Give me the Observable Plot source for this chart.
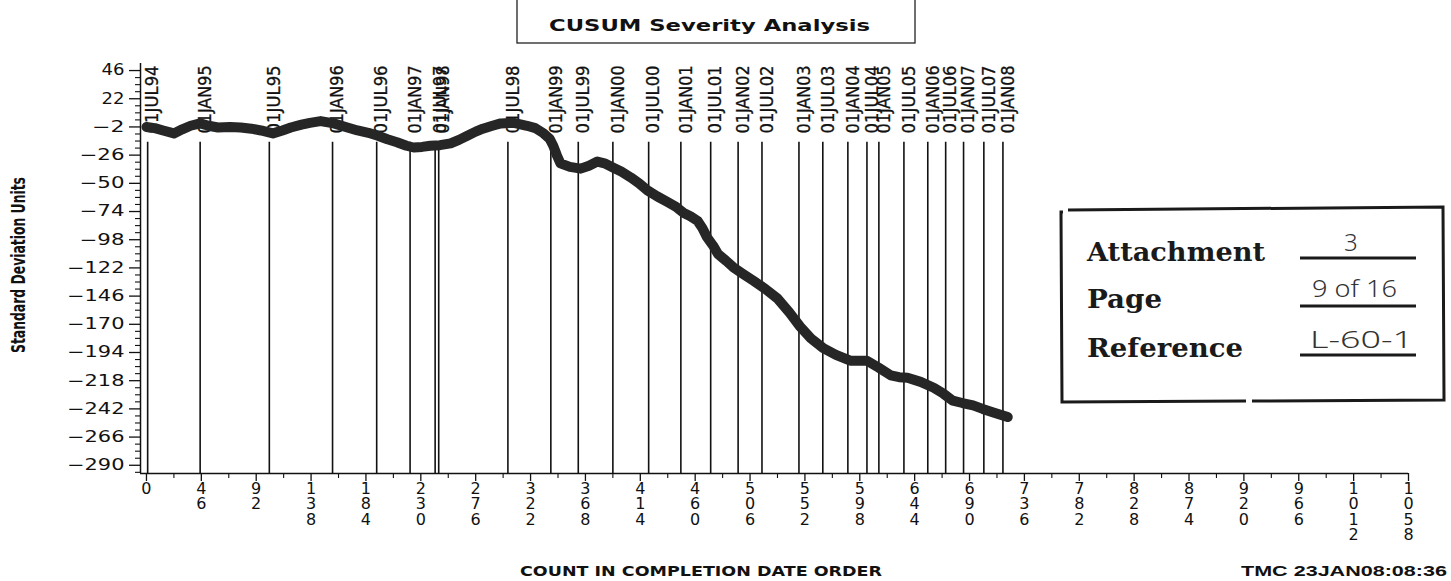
<!DOCTYPE html>
<html>
<head>
<meta charset="utf-8">
<script src="https://cdn.jsdelivr.net/npm/d3@7"></script>
<script src="https://cdn.jsdelivr.net/npm/@observablehq/plot@0.6"></script>
<style>
  html, body { margin: 0; padding: 0; background: #fff; }
  #wrap { position: relative; width: 1451px; height: 581px; overflow: hidden; background: #fff; }
  #wrap svg { position: absolute; left: 0; top: 0; }
</style>
</head>
<body>
<div id="wrap"></div>
<script>
// ---- data ----
const dateLabels = ["01JUL94","01JAN95","01JUL95","01JAN96","01JUL96","01JAN97","01JUL97","01JAN98",
  "01JUL98","01JAN99","01JUL99","01JAN00","01JUL00","01JAN01","01JUL01","01JAN02","01JUL02",
  "01JAN03","01JUL03","01JAN04","01JUL04","01JAN05","01JUL05","01JAN06","01JUL06","01JAN07",
  "01JUL07","01JAN08"];
const dateCounts = [1,45,103,156,193,221,242,245,303,339,362,391,421,448,473,496,516,547,567,588,604,614,635,655,670,685,702,718];

const counts = [0,7,14,23,30,37,45,52,60,70,79,88,96,106,114,121,130,137,146,157,167,177,186,194,202,210,218,224,231,238,246,255,262,269,276,282,290,297,308,319,326,333,338,341,344,347,355,364,371,378,384,391,398,406,413,420,428,437,444,450,456,462,466,470,475,479,486,492,500,509,519,529,539,548,557,567,578,590,597,604,614,624,631,638,649,660,668,676,684,693,701,710,716,722];
const cusum = [-2,-3,-5,-7.5,-4,-1,1,-1,-2.5,-2,-2.5,-3.5,-5,-7.5,-5,-2.5,0,1.5,3,1,-2,-5,-7,-9.5,-12.5,-15,-18,-19.5,-19,-18,-17.5,-16,-13,-9.5,-6,-3.5,-1,1,1.5,-1,-3,-7.5,-12,-18,-26,-33,-36,-37.5,-35,-31.5,-33,-36.5,-40,-45,-50,-56,-61,-66,-70,-75,-78,-82,-88,-96,-103,-110,-116,-121.5,-127,-133,-140,-148,-160,-172,-182,-190,-196,-201,-201,-201,-207,-213.5,-215,-215.5,-219,-224,-229,-235,-237,-239,-242,-245,-247,-249];

const yTicks = [46,22,-2,-26,-50,-74,-98,-122,-146,-170,-194,-218,-242,-266,-290];
const xTicks = [0,46,92,138,184,230,276,322,368,414,460,506,552,598,644,690,736,782,828,874,920,966,1012,1058];

const title = "CUSUM Severity Analysis";
const yLabel = "Standard Deviation Units";
const xLabel = "COUNT IN COMPLETION DATE ORDER";
const stamp = "TMC  23JAN08:08:36";

// derived tables
const series = counts.map((c, i) => ({count: c, value: cusum[i]}));
const dates = dateLabels.map((l, i) => ({label: l, count: dateCounts[i]}));
const yMinor = d3.range(46 - 6, -297, -6).filter(v => !yTicks.includes(v));
const xMinor = xTicks.slice(0, -1).map(v => v + 23);

const X0 = -5, X1 = 1058, Y0 = -297, Y1 = 52;
const wide = "DejaVu Sans, sans-serif";
const narrow = "'Liberation Sans Narrow', 'DejaVu Sans Condensed', 'Arial Narrow', sans-serif";
const fmtY = d => (d < 0 ? "\u2212" : "") + Math.abs(d);
const fmtX = d => String(d).split("").join("\n");
const yTickTexts = yTicks.map(fmtY);

const chart = Plot.plot({
  width: 1451,
  height: 581,
  marginLeft: 140,
  marginRight: 43,
  marginTop: 63,
  marginBottom: 108,
  style: {background: "transparent", color: "#111"},
  x: {domain: [X0, X1], label: null},
  y: {domain: [Y0, Y1], label: null},
  marks: [
    Plot.ruleX([X0], {y1: Y0, y2: Y1, stroke: "#111", strokeWidth: 1.5}),
    Plot.ruleY([Y0], {x1: X0, x2: X1, stroke: "#111", strokeWidth: 1.5}),
    Plot.axisY(yTicks, {anchor: "left", tickSize: 11, tickFormat: () => "", strokeWidth: 1.3}),
    Plot.axisY(yMinor, {anchor: "left", tickSize: 5, tickFormat: () => "", strokeWidth: 1.1}),
    Plot.text(yTicks, {x: X0, y: d => d, text: fmtY, textAnchor: "end", dx: -16,
      fontSize: 15, fontFamily: wide, fill: "#111"}),
    Plot.axisX(xTicks, {anchor: "bottom", tickSize: 8, tickFormat: () => "", strokeWidth: 1.3}),
    Plot.axisX(xMinor, {anchor: "bottom", tickSize: 5, tickFormat: () => "", strokeWidth: 1.1}),
    Plot.text(xTicks, {x: d => d, y: Y0, text: fmtX, lineAnchor: "top", dy: 10, lineHeight: 0.95,
      fontSize: 16, fontFamily: wide, fill: "#111"}),
    Plot.ruleX(dates, {x: "count", y1: -15, y2: Y0, stroke: "#111", strokeWidth: 1.6}),
    Plot.text(dates, {x: "count", y: -7.5, text: "label", rotate: -90, textAnchor: "start", dx: 5,
      fontSize: 18, fontFamily: narrow, fill: "#111", stroke: "#111", strokeWidth: 0.3}),
    Plot.line(series, {x: "count", y: "value", stroke: "#262626", strokeWidth: 10,
      strokeLinejoin: "round", strokeLinecap: "round"})
  ]
});
document.getElementById("wrap").appendChild(chart);

// post-process text lengths
d3.select(chart).selectAll("text").each(function() {
  if (this.querySelector("tspan")) return;
  const t = this.textContent;
  const el = d3.select(this);
  if (dateLabels.includes(t)) {
    el.attr("textLength", 68).attr("lengthAdjust", "spacingAndGlyphs");
  } else if (yTickTexts.includes(t)) {
    const neg = t.startsWith("\u2212");
    const nd = t.replace("\u2212", "").length;
    el.attr("textLength", (neg ? 22 : 0) + nd * 12.5 - 2).attr("lengthAdjust", "spacingAndGlyphs");
  }
});

// ---- overlay annotations ----
const ov = d3.select("#wrap").append("svg")
  .attr("width", 1451).attr("height", 581)
  .style("pointer-events", "none");

// title box
ov.append("rect").attr("x", 517).attr("y", -4).attr("width", 398).attr("height", 47)
  .attr("fill", "none").attr("stroke", "#222").attr("stroke-width", 1.3);
ov.append("text").attr("x", 549).attr("y", 31).text(title)
  .attr("font-family", wide).attr("font-weight", "bold").attr("font-size", 15)
  .attr("textLength", 321).attr("lengthAdjust", "spacingAndGlyphs").attr("fill", "#111");

// y label
ov.append("text").attr("transform", "translate(25,353) rotate(-90)").text(yLabel)
  .attr("font-family", narrow).attr("font-weight", "bold").attr("font-size", 19)
  .attr("textLength", 176).attr("lengthAdjust", "spacingAndGlyphs").attr("fill", "#111");

// x label + stamp
ov.append("text").attr("x", 520).attr("y", 576).text(xLabel)
  .attr("font-family", wide).attr("font-weight", "bold").attr("font-size", 14)
  .attr("textLength", 362).attr("lengthAdjust", "spacingAndGlyphs").attr("fill", "#111");
ov.append("text").attr("x", 1241).attr("y", 576).text(stamp)
  .attr("font-family", "'Liberation Sans', Arial, sans-serif").attr("font-weight", "bold").attr("font-size", 14)
  .attr("textLength", 206).attr("lengthAdjust", "spacingAndGlyphs").attr("fill", "#111");

// attachment stamp box
const sb = ov.append("g");
sb.append("path").attr("d", "M1068,210 L1443,207 L1444,400 L1252,401 M1246,401 L1062,402 L1061,212 L1063,212")
  .attr("fill", "none").attr("stroke", "#1a1a1a").attr("stroke-width", 3);
const serif = "'DejaVu Serif', 'Liberation Serif', serif";
[["Attachment", 261, 178], ["Page", 308, 75], ["Reference", 357, 156]].forEach(([t, y, len]) => {
  sb.append("text").attr("x", 1087).attr("y", y).text(t)
    .attr("font-family", serif).attr("font-weight", "bold").attr("font-size", 26)
    .attr("textLength", len).attr("lengthAdjust", "spacingAndGlyphs").attr("fill", "#1a1a1a");
});
[258, 306, 355].forEach(y => {
  sb.append("line").attr("x1", 1300).attr("x2", 1416).attr("y1", y).attr("y2", y)
    .attr("stroke", "#1a1a1a").attr("stroke-width", 3);
});
const hand = "'Noto Sans', sans-serif";
[["3", 1344, 251, null], ["9 of 16", 1312, 297, 85], ["L-60-1", 1310, 348, 103]].forEach(([t, x, y, len]) => {
  const el = sb.append("text").attr("x", x).attr("y", y).text(t)
    .attr("font-family", hand).attr("font-weight", 300).attr("font-size", 24).attr("fill", "#333");
  if (len) el.attr("textLength", len).attr("lengthAdjust", "spacingAndGlyphs");
});
</script>
</body>
</html>
